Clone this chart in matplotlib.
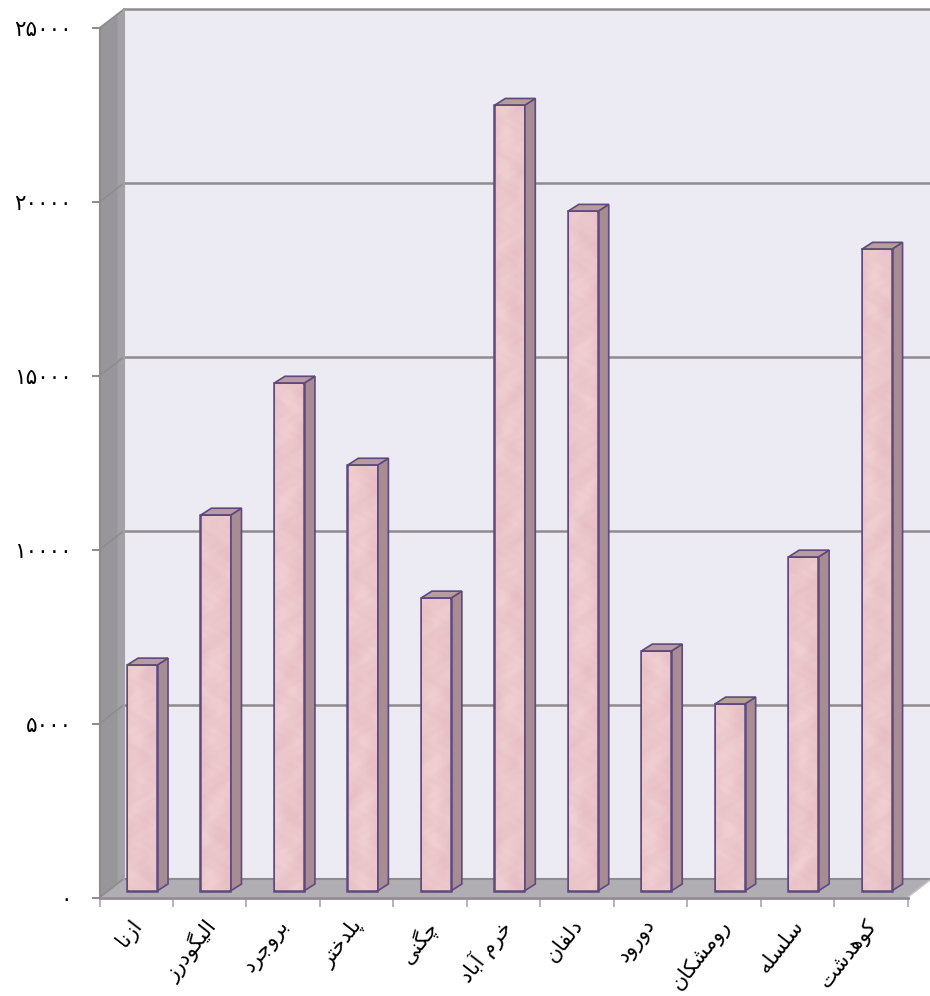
import matplotlib
matplotlib.use('Agg')
import matplotlib.pyplot as plt
import numpy as np
from matplotlib.colors import LinearSegmentedColormap
from matplotlib.patches import Polygon
from matplotlib.transforms import ScaledTranslation

plt.rcParams['font.family'] = ['DejaVu Sans']

counties = ['ازنا', 'الیگودرز', 'بروجرد', 'پلدختر', 'چگنی', 'خرم آباد',
            'دلفان', 'دورود', 'رومشکان', 'سلسله', 'کوهدشت']
values = [6494, 10805, 14598, 12241, 8420, 22586, 19540, 6897, 5374, 9598, 18448]
y_ticks = [0, 5000, 10000, 15000, 20000, 25000]
y_labels = ['۰', '۵۰۰۰', '۱۰۰۰۰', '۱۵۰۰۰', '۲۰۰۰۰', '۲۵۰۰۰']

# isolated, final, initial, medial
FORMS = {
    'ا': (0xFE8D, 0xFE8E), 'آ': (0xFE81, 0xFE82), 'د': (0xFEA9, 0xFEAA),
    'ر': (0xFEAD, 0xFEAE), 'ز': (0xFEAF, 0xFEB0), 'و': (0xFEED, 0xFEEE),
    'ب': (0xFE8F, 0xFE90, 0xFE91, 0xFE92), 'پ': (0xFB56, 0xFB57, 0xFB58, 0xFB59),
    'ت': (0xFE95, 0xFE96, 0xFE97, 0xFE98), 'ج': (0xFE9D, 0xFE9E, 0xFE9F, 0xFEA0),
    'چ': (0xFB7A, 0xFB7B, 0xFB7C, 0xFB7D), 'خ': (0xFEA5, 0xFEA6, 0xFEA7, 0xFEA8),
    'س': (0xFEB1, 0xFEB2, 0xFEB3, 0xFEB4), 'ش': (0xFEB5, 0xFEB6, 0xFEB7, 0xFEB8),
    'ف': (0xFED1, 0xFED2, 0xFED3, 0xFED4), 'ک': (0xFB8E, 0xFB8F, 0xFB90, 0xFB91),
    'گ': (0xFB92, 0xFB93, 0xFB94, 0xFB95), 'ل': (0xFEDD, 0xFEDE, 0xFEDF, 0xFEE0),
    'م': (0xFEE1, 0xFEE2, 0xFEE3, 0xFEE4), 'ن': (0xFEE5, 0xFEE6, 0xFEE7, 0xFEE8),
    'ه': (0xFEE9, 0xFEEA, 0xFEEB, 0xFEEC), 'ی': (0xFBFC, 0xFBFD, 0xFBFE, 0xFBFF),
}


# matplotlib does no arabic shaping, so pick the joined forms by hand
def shape(word):
    out = []
    for i, ch in enumerate(word):
        forms = FORMS.get(ch)
        if forms is None:
            out.append(ch)
            continue
        prev = word[i - 1] if i > 0 else ' '
        nxt = word[i + 1] if i < len(word) - 1 else ' '
        joins_prev = prev in FORMS and len(FORMS[prev]) == 4
        joins_next = nxt in FORMS and len(forms) == 4
        if joins_prev and joins_next:
            out.append(chr(forms[3]))
        elif joins_prev:
            out.append(chr(forms[1]))
        elif joins_next:
            out.append(chr(forms[2]))
        else:
            out.append(chr(forms[0]))
    return ''.join(reversed(out))


# soft blotches for the bar fill, only decoration
def mottle(w, h, phase):
    yy, xx = np.mgrid[0:h, 0:w]
    return (np.sin(xx / 6.1 + np.sin(yy / 23.0 + phase) * 3) * np.cos(yy / 11.3 + 2 * phase)
            + 0.6 * np.sin(yy / 17.9 + np.cos(xx / 9.0 + yy / 31.0) * 2 + 3 * phase)
            + 0.3 * np.cos(xx / 2.7 + np.sin(yy / 5.3) * 4 + phase))


fig = plt.figure(figsize=(9.3, 9.96), dpi=100)
ax = fig.add_axes([99.5 / 930, (996 - 897.5) / 996, 808 / 930, 869.5 / 996])

# px -> data units for the fake 3d depth
n = len(counties)
px_x = n / 808
px_y = 25000 / 869.5
depth_x = 24 * px_x
depth_y = 18.5 * px_y

wall = '#ECEAF2'
side_wall = '#98969B'
side_strip = '#A3A1A6'
floor = '#B1AEB3'
grid = '#8E8C8E'
edge = '#5E4A7E'
pink = LinearSegmentedColormap.from_list('pink', ['#E6BEC3', '#EBC6CA', '#F0D0D3'])

ax.add_patch(Polygon([(depth_x, depth_y), (n + depth_x, depth_y), (n + depth_x, 25000 + depth_y),
                      (depth_x, 25000 + depth_y)], fc=wall, ec='none', clip_on=False, zorder=1))
ax.add_patch(Polygon([(0, 0), (depth_x, depth_y), (depth_x, 25000 + depth_y), (0, 25000)],
                     fc=side_wall, ec='none', clip_on=False, zorder=1))
strip_x = 18 * px_x
strip_y = 14 * px_y
ax.add_patch(Polygon([(strip_x, strip_y), (depth_x, depth_y), (depth_x, 25000 + depth_y),
                      (strip_x, 25000 + strip_y)], fc=side_strip, ec='none', clip_on=False, zorder=1))
ax.add_patch(Polygon([(0, 0), (n, 0), (n + depth_x, depth_y), (depth_x, depth_y)],
                     fc=floor, ec='none', clip_on=False, zorder=1))

for t in y_ticks:
    lw = 1.8 if t > 0 else 1.5
    ax.plot([depth_x, n + depth_x], [t + depth_y, t + depth_y], color=grid, lw=lw,
            clip_on=False, zorder=2, solid_capstyle='butt')
    ax.plot([0, depth_x], [t, t + depth_y], color=grid, lw=1.2, clip_on=False, zorder=2)
ax.plot([depth_x, depth_x], [depth_y, 25000 + depth_y], color='#A3A1A6', lw=1.5, clip_on=False, zorder=2)
ax.plot([n, n + depth_x], [0, depth_y], color='#C8C6CA', lw=1, clip_on=False, zorder=2)

# bars sit a bit inside the floor, with their own shallow depth
bar_w = 30 * px_x
bar_dx = 11 * px_x
bar_dy = 7 * px_y
shift_x = 5.8 * px_x
shift_y = 6.5 * px_y
for i, v in enumerate(values):
    x0 = i + 0.5 + shift_x - bar_w / 2
    x1 = x0 + bar_w
    y0 = shift_y
    y1 = v + shift_y
    ax.add_patch(Polygon([(x1, y0), (x1 + bar_dx, y0 + bar_dy), (x1 + bar_dx, y1 + bar_dy), (x1, y1)],
                         fc='#A78C93', ec=edge, lw=1.2, clip_on=False, zorder=3))
    ax.add_patch(Polygon([(x0, y1), (x1, y1), (x1 + bar_dx, y1 + bar_dy), (x0 + bar_dx, y1 + bar_dy)],
                         fc='#B89C9E', ec=edge, lw=1.2, clip_on=False, zorder=3))
    ax.bar(i + 0.5 + shift_x, v, width=bar_w, bottom=shift_y, color='#EBC6CA', edgecolor=edge,
           linewidth=1.8, clip_on=False, zorder=4)
    h_px = int(v / px_y)
    ax.imshow(mottle(28, h_px, i * 1.3), cmap=pink, aspect='auto', interpolation='bilinear',
              extent=(x0 + 1.2 * px_x, x1 - 1.2 * px_x, y0 + 1.2 * px_y, y1 - 1.2 * px_y),
              clip_on=False, zorder=5)

ax.set_xlim(0, n)
ax.set_ylim(0, 25000)

for s in ['top', 'right']:
    ax.spines[s].set_visible(False)
ax.spines['left'].set_color(grid)
ax.spines['left'].set_linewidth(1.5)
ax.spines['bottom'].set_color(grid)
ax.spines['bottom'].set_linewidth(2)
ax.patch.set_visible(False)

ax.set_yticks(y_ticks)
ax.set_yticklabels(y_labels, fontsize=15.5)
ax.tick_params(axis='y', length=6, width=1.5, color=grid, pad=14)
ax.set_xticks(range(n + 1))
ax.set_xticklabels([])
ax.tick_params(axis='x', which='major', length=6.5, width=1.2, color='#A8A8A8')
ax.set_xticks([i + 0.5 for i in range(n)], minor=True)
ax.set_xticklabels([shape(c) for c in counties], minor=True, rotation=52, ha='right',
                   va='top', rotation_mode='anchor', fontsize=15)
ax.tick_params(axis='x', which='minor', length=0, pad=13)
offset = ScaledTranslation(-0.06, 0, fig.dpi_scale_trans)
for label in ax.get_xticklabels(minor=True):
    label.set_transform(label.get_transform() + offset)

fig.savefig('out.png', dpi=100)
